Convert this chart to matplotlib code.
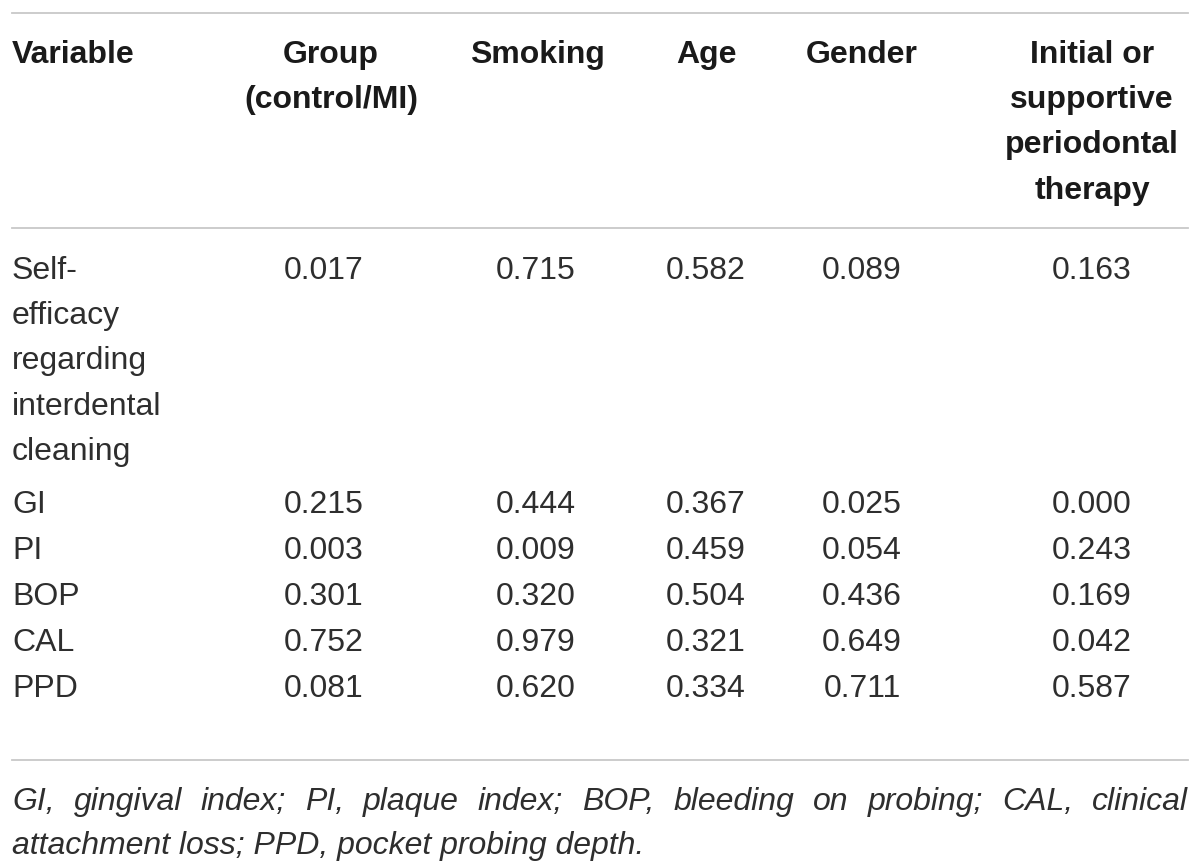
import matplotlib
matplotlib.use("Agg")
import matplotlib.pyplot as plt

W, H = 1200, 865

columns = ["Variable", "Group\n(control/MI)", "Smoking", "Age", "Gender",
           "Initial or\nsupportive\nperiodontal\ntherapy"]
variables = ["Self-\nefficacy\nregarding\ninterdental\ncleaning",
             "GI", "PI", "BOP", "CAL", "PPD"]
group = ["0.017", "0.215", "0.003", "0.301", "0.752", "0.081"]
smoking = ["0.715", "0.444", "0.009", "0.320", "0.979", "0.620"]
age = ["0.582", "0.367", "0.459", "0.504", "0.321", "0.334"]
gender = ["0.089", "0.025", "0.054", "0.436", "0.649", "0.711"]
therapy = ["0.163", "0.000", "0.243", "0.169", "0.042", "0.587"]
footnote = ("GI, gingival index; PI, plaque index; BOP, bleeding on probing; CAL, clinical "
            "attachment loss; PPD, pocket probing depth.")

plt.rcParams["font.family"] = ["Liberation Sans", "DejaVu Sans"]

fig = plt.figure(figsize=(W / 100, H / 100), dpi=100)

fs = 23
ls = 1.67
step = 45.3  # pixel distance between text lines at this size / spacing


def txt(x, y, s, **kw):
    # y is the baseline of the first line, in pixels from the top;
    # matplotlib puts multi-line 'baseline' text on its last line
    y_last = y + (s.count("\n")) * step
    return fig.text(x / W, 1 - y_last / H, s, va="baseline", **kw)


def hline(y):
    fig.add_artist(plt.Line2D([12 / W, 1188 / W], [1 - y / H] * 2,
                              color="#c8c8c8", lw=1.3))


hline(13)
hline(228)
hline(760)

head_x = [12, 331, 537, 706, 862, 1092]
num_x = [324, 536, 706, 862, 1092]

# header
for i, c in enumerate(columns):
    ha = "left" if i == 0 else "center"
    txt(head_x[i], 63, c, ha=ha, fontsize=fs, fontweight="bold",
        color="#1a1a1a", linespacing=ls, multialignment="center" if i else "left")

# body rows
row_base = [279, 513, 559, 605, 651, 697]
cols = [group, smoking, age, gender, therapy]
for r, v in enumerate(variables):
    txt(12, row_base[r], v, ha="left", fontsize=fs, color="#2e2e2e", linespacing=ls)
    for j, data in enumerate(cols):
        txt(num_x[j], row_base[r], data[r], ha="center", fontsize=fs, color="#2e2e2e")

# justified footnote
words = footnote.split(" ")
line1 = words[:12]
line2 = words[12:]
fig.canvas.draw()
r = fig.canvas.get_renderer()
widths = []
for w in line1:
    t = txt(0, 0, w, fontsize=fs, style="italic")
    widths.append(t.get_window_extent(r).width)
    t.remove()
gap = (1176 - sum(widths)) / (len(line1) - 1)
x = 12
for w, wd in zip(line1, widths):
    txt(x, 810, w, ha="left", fontsize=fs, style="italic", color="#2e2e2e")
    x += wd + gap
txt(12, 854, " ".join(line2), ha="left", fontsize=fs, style="italic", color="#2e2e2e")

fig.savefig("out.png", dpi=100)
